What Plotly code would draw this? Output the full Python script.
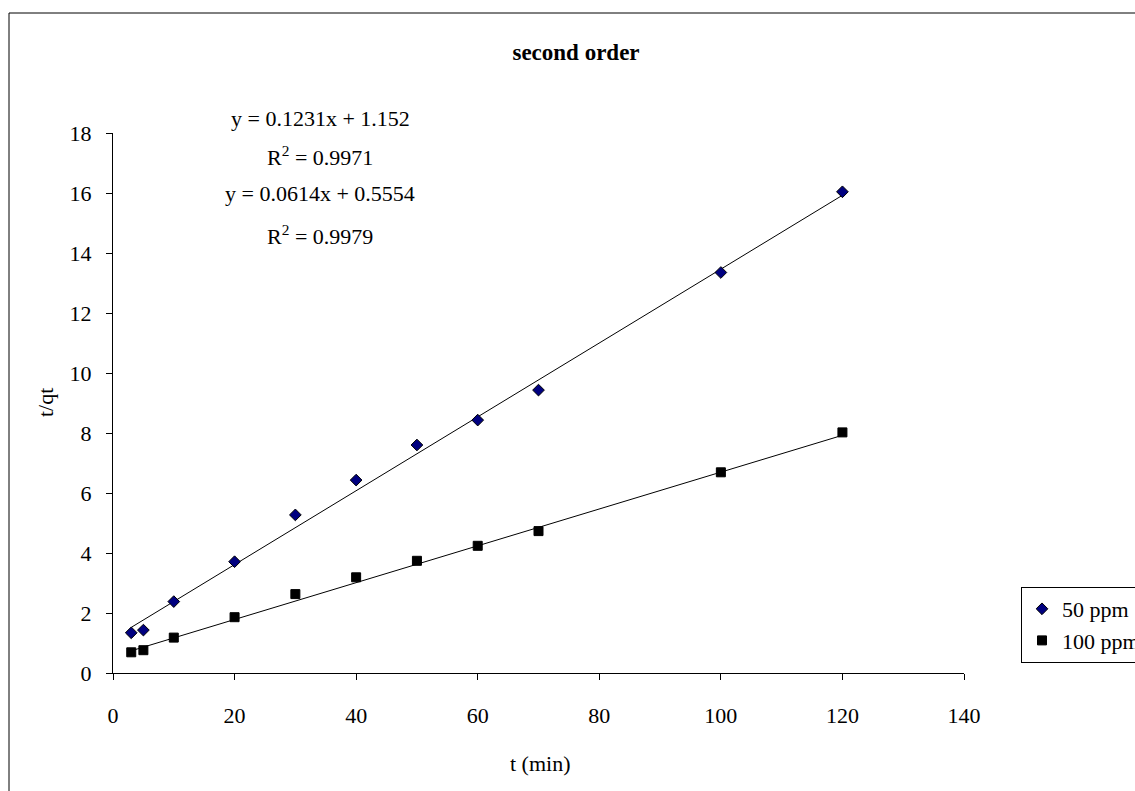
import plotly.graph_objects as go
import numpy as np

# ---- data ----
t_min = [3, 5, 10, 20, 30, 40, 50, 60, 70, 100, 120]
ppm50 = [1.34, 1.43, 2.38, 3.71, 5.27, 6.43, 7.60, 8.43, 9.43, 13.35, 16.04]
ppm100 = [0.69, 0.76, 1.18, 1.86, 2.63, 3.19, 3.74, 4.24, 4.73, 6.69, 8.02]
fit_slopes = [0.1231, 0.0614]
fit_intercepts = [1.152, 0.5554]
fit_r2 = [0.9971, 0.9979]
series_names = ["50 ppm", "100 ppm"]
x_ticks = [0, 20, 40, 60, 80, 100, 120, 140]
y_ticks = [0, 2, 4, 6, 8, 10, 12, 14, 16, 18]

FONT = "Liberation Serif, Times New Roman, serif"
FS = 22

# plot-area geometry in pixels
L, R, T, B = 113, 964, 133, 673
W, H = 1135, 791


def px_x(p):
    return (p - L) / (R - L)


def px_y(p):
    return (B - p) / (B - T)


fig = go.Figure()

# trendlines
tx = np.array([min(t_min), max(t_min)], dtype=float)
for s, b in zip(fit_slopes, fit_intercepts):
    fig.add_trace(go.Scatter(x=tx, y=s * tx + b, mode="lines",
                             line=dict(color="black", width=1),
                             showlegend=False, hoverinfo="skip"))

fig.add_trace(go.Scatter(x=t_min, y=ppm50, mode="markers", name=series_names[0],
                         marker=dict(symbol="diamond", size=9, color="#000080",
                                     line=dict(color="black", width=1))))
fig.add_trace(go.Scatter(x=t_min, y=ppm100, mode="markers", name=series_names[1],
                         marker=dict(symbol="square", size=9, color="black",
                                     line=dict(color="black", width=1))))

eq_texts = []
for s, b, r in zip(fit_slopes, fit_intercepts, fit_r2):
    eq_texts.append(f"y = {s}x + {b}")
    eq_texts.append(f"R<sup>2</sup> = {r}")
eq_px_y = [118, 156, 193, 235]
for txt, py in zip(eq_texts, eq_px_y):
    fig.add_annotation(x=px_x(320), y=px_y(py), xref="paper", yref="paper", text=txt,
                       showarrow=False, xanchor="center", yanchor="middle",
                       font=dict(family=FONT, size=FS, color="black"))

# axis titles
fig.add_annotation(x=px_x(540), y=px_y(763), xref="paper", yref="paper", text="t (min)",
                   showarrow=False, xanchor="center", yanchor="middle",
                   font=dict(family=FONT, size=FS, color="black"))
fig.add_annotation(x=px_x(45), y=px_y(403), xref="paper", yref="paper", text="t/qt",
                   showarrow=False, xanchor="center", yanchor="middle", textangle=-90,
                   font=dict(family=FONT, size=FS, color="black"))

fig.update_layout(
    width=W, height=H,
    margin=dict(l=L, r=W - R, t=T, b=H - B, autoexpand=False),
    paper_bgcolor="white", plot_bgcolor="white",
    font=dict(family=FONT, size=FS, color="black"),
    title=dict(text="<b>second order</b>", x=px_x(576), xref="paper", xanchor="center",
               y=1 - 52 / H, yref="container", yanchor="middle",
               font=dict(family=FONT, size=23, color="black")),
    xaxis=dict(range=[0, 140], tickvals=x_ticks, showgrid=False, zeroline=False,
               showline=True, linecolor="black", linewidth=1,
               ticks="outside", ticklen=6, tickcolor="black",
               ticklabelstandoff=17, automargin=False),
    yaxis=dict(range=[0, 18], tickvals=y_ticks, showgrid=False, zeroline=False,
               showline=True, linecolor="black", linewidth=1,
               ticks="outside", ticklen=6, tickcolor="black",
               ticklabelstandoff=10, automargin=False),
    legend=dict(x=1021 / W, y=1 - 587 / H, xref="container", yref="container",
                xanchor="left", yanchor="top",
                bordercolor="black", borderwidth=1, bgcolor="white",
                font=dict(family=FONT, size=FS, color="black"),
                tracegroupgap=0),
    shapes=[dict(type="rect", xref="paper", yref="paper",
                 x0=px_x(9), x1=2, y0=-1, y1=px_y(13),
                 line=dict(color="black", width=1), fillcolor="rgba(0,0,0,0)", layer="below")],
)

fig.write_html("out.html")
